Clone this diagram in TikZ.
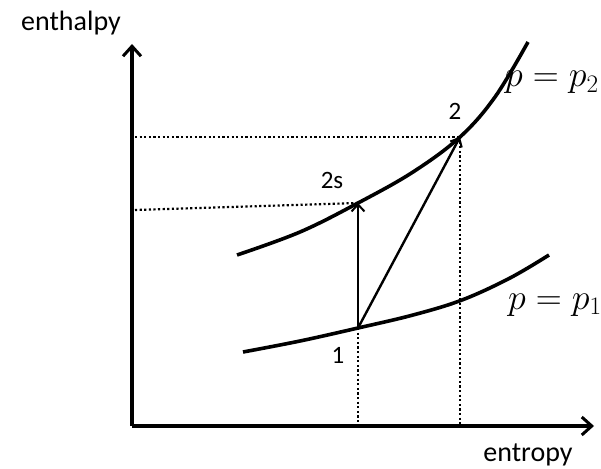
\RequirePackage{fix-cm}
\documentclass[tikz,border=0pt]{standalone}
\usepackage{fontspec}
\setmainfont{Carlito}
\usetikzlibrary{arrows.meta}
\begin{document}
\begin{tikzpicture}[x=1pt,y=-1pt,
  axis/.style={line width=3.6pt,-{Straight Barb[length=10pt,width=18pt,line width=3pt]}},
  curve/.style={line width=3.6pt},
  proc/.style={line width=2.4pt,-{Straight Barb[length=7pt,width=13pt,line width=2pt]}},
  guide/.style={line width=2.2pt,dash pattern=on 2.2pt off 2.4pt},
  lbl/.style={font=\fontsize{28}{32}\selectfont,inner sep=0pt},
  num/.style={font=\fontsize{25}{28}\selectfont,inner sep=0pt},
  mlbl/.style={font=\fontsize{36}{40}\selectfont,inner sep=0pt}]
\useasboundingbox (0,0) rectangle (601,468);
\coordinate (O) at (132,426);
\coordinate (ytip) at (132,44);
\coordinate (xtip) at (594,426);
\coordinate (s1) at (358,328);
\coordinate (s2s) at (358,203);
\coordinate (s2) at (460,137);
\coordinate (yA) at (135,137);
\coordinate (yB) at (135,210);
\coordinate (xA) at (358,426);
\coordinate (xB) at (460,426);
\draw[guide] (yA) -- (s2);
\draw[guide] (yB) -- (s2s);
\draw[guide] (s1) -- (xA);
\draw[guide] (s2) -- (xB);
\draw[curve] plot[smooth,tension=0.6] coordinates {(237,255) (300,232) (s2s) (413,172) (s2) (495,97) (528,42)};
\draw[curve] plot[smooth,tension=0.6] coordinates {(243,352) (300,341) (s1) (413,315) (462,300) (510,278) (549,255)};
\draw[proc] (s1) -- (s2s);
\draw[proc] (s1) -- (s2);
\draw[axis] (O) -- (ytip);
\draw[axis] (O) -- (xtip);
\node[lbl] (ylab) at (71,23) {enthalpy};
\node[lbl] (xlab) at (528,455) {entropy};
\node[num] (l2s) at (332,180) {2s};
\node[num] (l2) at (455,111) {2};
\node[num] (l1) at (338,355) {1};
\node[mlbl,anchor=base west] (pp2) at (505,87) {$p=p_2$};
\node[mlbl,anchor=base west] (pp1) at (508,309) {$p=p_1$};
\end{tikzpicture}
\end{document}
